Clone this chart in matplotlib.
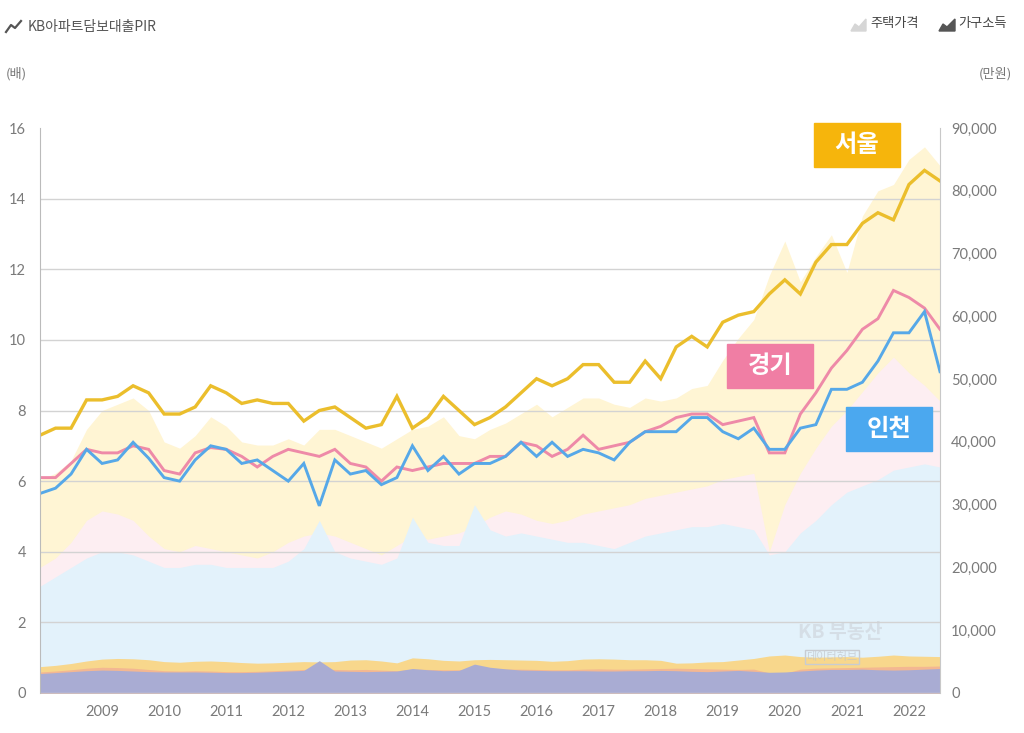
import matplotlib
matplotlib.use('Agg')
import matplotlib.pyplot as plt
from matplotlib.patches import Rectangle, Polygon
import numpy as np

plt.rcParams['font.family'] = ['Lato', 'Noto Sans CJK KR', 'DejaVu Sans']
KR = ['Noto Sans CJK KR', 'DejaVu Sans']

# quarterly, 2008 Q1 .. 2022 Q3
years = list(range(2009, 2023))

seoul_pir = [7.3, 7.5, 7.5, 8.3, 8.3, 8.4, 8.7, 8.5, 7.9, 7.9,
             8.1, 8.7, 8.5, 8.2, 8.3, 8.2, 8.2, 7.7, 8.0, 8.1,
             7.8, 7.5, 7.6, 8.4, 7.5, 7.8, 8.4, 8.0, 7.6, 7.8,
             8.1, 8.5, 8.9, 8.7, 8.9, 9.3, 9.3, 8.8, 8.8, 9.4,
             8.9, 9.8, 10.1, 9.8, 10.5, 10.7, 10.8, 11.3, 11.7, 11.3,
             12.2, 12.7, 12.7, 13.3, 13.6, 13.4, 14.4, 14.8, 14.5]
gyeonggi_pir = [6.1, 6.1, 6.5, 6.9, 6.8, 6.8, 7.0, 6.9, 6.3, 6.2,
                6.8, 6.95, 6.9, 6.7, 6.4, 6.7, 6.9, 6.8, 6.7, 6.9,
                6.5, 6.4, 6.0, 6.4, 6.3, 6.4, 6.5, 6.5, 6.5, 6.7,
                6.7, 7.1, 7.0, 6.7, 6.9, 7.3, 6.9, 7.0, 7.1, 7.4,
                7.55, 7.8, 7.9, 7.9, 7.6, 7.7, 7.8, 6.8, 6.8, 7.9,
                8.5, 9.2, 9.7, 10.3, 10.6, 11.4, 11.2, 10.9, 10.3]
incheon_pir = [5.65, 5.8, 6.2, 6.9, 6.5, 6.6, 7.1, 6.65, 6.1, 6.0,
               6.6, 7.0, 6.9, 6.5, 6.6, 6.3, 6.0, 6.5, 5.3, 6.6,
               6.2, 6.3, 5.9, 6.1, 7.0, 6.3, 6.7, 6.2, 6.5, 6.5,
               6.7, 7.1, 6.7, 7.1, 6.7, 6.9, 6.8, 6.6, 7.1, 7.4,
               7.4, 7.4, 7.8, 7.8, 7.4, 7.2, 7.5, 6.9, 6.9, 7.5,
               7.6, 8.6, 8.6, 8.8, 9.4, 10.2, 10.2, 10.8, 9.1]

# house price (만원)
seoul_price = [34000, 35000, 37000, 42000, 45000, 46000, 47000, 45000, 40000, 39000,
               41000, 44000, 42500, 40000, 39500, 39500, 40500, 39500, 42000, 42000,
               41000, 40000, 39000, 40500, 42000, 42500, 44000, 41000, 40500, 42000,
               43000, 44500, 46000, 44000, 45500, 47000, 47000, 46000, 45500, 47000,
               46500, 47000, 48500, 49000, 53000, 56500, 59500, 66500, 72000, 65500,
               69500, 73000, 67000, 76000, 80000, 81000, 85000, 87000, 84000]
gyeonggi_price = [20000, 21500, 24000, 27500, 29000, 28500, 27500, 25000, 23000, 22500,
                  23500, 23000, 22500, 22000, 21500, 22500, 24000, 25000, 25500, 25000,
                  24000, 23000, 22000, 23500, 25000, 24500, 25000, 25500, 26500, 28000,
                  29000, 28500, 27500, 27000, 27500, 28500, 29000, 29500, 30000, 31000,
                  31500, 32000, 32500, 33000, 34000, 34500, 35000, 22500, 30000, 35000,
                  39000, 42500, 45000, 48000, 51000, 53500, 51000, 49000, 46500]
incheon_price = [17000, 18500, 20000, 21500, 22500, 22500, 22000, 21000, 20000, 20000,
                 20500, 20500, 20000, 20000, 20000, 20000, 21000, 23000, 27500, 22500,
                 21500, 21000, 20500, 21500, 28000, 24000, 23500, 23500, 30000, 26000,
                 25000, 25500, 25000, 24500, 24000, 24000, 23500, 23000, 24000, 25000,
                 25500, 26000, 26500, 26500, 27000, 26500, 26000, 22000, 22500, 25500,
                 27500, 30000, 32000, 33000, 34000, 35500, 36000, 36500, 36000]

# household income (만원)
seoul_income = [4200, 4400, 4700, 5100, 5400, 5500, 5450, 5300, 5000, 4900,
                5050, 5100, 5000, 4850, 4750, 4800, 4900, 5000, 4950, 5000,
                5250, 5300, 5100, 4800, 5600, 5450, 5200, 5100, 5300, 5350,
                5300, 5250, 5200, 5050, 5150, 5400, 5450, 5400, 5300, 5300,
                5200, 4750, 4800, 4950, 5000, 5250, 5500, 5900, 6050, 5800,
                5700, 5750, 5800, 5700, 5850, 6050, 5900, 5850, 5800]
gyeonggi_income = [3350, 3500, 3700, 3950, 4100, 4050, 3950, 3750, 3550, 3500,
                   3550, 3500, 3400, 3400, 3450, 3550, 3650, 3750, 3800, 3750,
                   3700, 3750, 3650, 3550, 3800, 3750, 3700, 3700, 3900, 3850,
                   3800, 3800, 3750, 3700, 3700, 3800, 3850, 3800, 3800, 3850,
                   3900, 3950, 3900, 3850, 3800, 3750, 3800, 3200, 3150, 3800,
                   3950, 4000, 4050, 4100, 4150, 4200, 4250, 4250, 4300]
incheon_income = [3100, 3250, 3400, 3550, 3650, 3600, 3500, 3400, 3350, 3350,
                  3350, 3300, 3250, 3250, 3300, 3400, 3500, 3600, 5150, 3500,
                  3450, 3400, 3450, 3500, 3900, 3700, 3550, 3600, 4600, 4100,
                  3850, 3650, 3600, 3550, 3550, 3550, 3500, 3500, 3550, 3550,
                  3600, 3550, 3450, 3400, 3500, 3600, 3450, 3300, 3350, 3500,
                  3650, 3750, 3750, 3800, 3700, 3650, 3700, 3800, 3900]

left_ticks = [0, 2, 4, 6, 8, 10, 12, 14, 16]
right_ticks = [0, 10000, 20000, 30000, 40000, 50000, 60000, 70000, 80000, 90000]

x = np.arange(len(seoul_pir))

fig = plt.figure(figsize=(10.24, 7.33), dpi=100)
ax = fig.add_axes([40/1024, 40/733, 900/1024, 565/733])
ax2 = ax.twinx()
ax.set_zorder(ax2.get_zorder() + 1)
ax.patch.set_visible(False)

# areas (right axis)
ax2.fill_between(x, seoul_price, color='#FFF5D4', lw=0)
ax2.fill_between(x, gyeonggi_price, color='#FDEEF2', lw=0)
ax2.fill_between(x, incheon_price, color='#E3F2FB', lw=0)
ax2.fill_between(x, seoul_income, color='#F8D78C', lw=0)
ax2.fill_between(x, gyeonggi_income, color='#F3B792', lw=0)
ax2.fill_between(x, incheon_income, color='#A9ACD3', lw=0)
ax2.set_ylim(0, 90000)
ax2.set_yticks(right_ticks)
ax2.set_yticklabels([f'{v:,}' for v in right_ticks])

# PIR lines (left axis)
ax.plot(x, seoul_pir, color='#EBBE2C', lw=2.4, solid_joinstyle='miter')
ax.plot(x, gyeonggi_pir, color='#EE8AA8', lw=2.1, solid_joinstyle='miter')
ax.plot(x, incheon_pir, color='#56A8E8', lw=2.1, solid_joinstyle='miter')
ax.set_ylim(0, 16)
ax.set_xlim(0, len(x) - 1)
ax.set_yticks(left_ticks)
ax.set_xticks([4 * (y - 2008) for y in years])
ax.set_xticklabels([str(y) for y in years])
ax.grid(axis='y', color='#D3D3D3', lw=1)
ax.yaxis.get_gridlines()[-1].set_visible(False)

for a in (ax, ax2):
    for s in a.spines.values():
        s.set_visible(False)
    a.tick_params(length=0, labelsize=10.5, colors='#7A7A7A')
ax.spines['left'].set_visible(True)
ax.spines['left'].set_color('#BBBBBB')
ax2.spines['right'].set_visible(True)
ax2.spines['right'].set_color('#C8C8C8')
ax.tick_params(axis='y', pad=10)
ax.tick_params(axis='x', pad=9)
ax2.tick_params(axis='y', pad=8)

# overlay in pixel coords for header, legend and labels
ov = fig.add_axes([0, 0, 1, 1], zorder=10)
ov.set_xlim(0, 1024)
ov.set_ylim(733, 0)
ov.axis('off')

ov.plot([6, 11, 15, 21], [32, 25, 28, 21], color='#555555', lw=1.6)
ov.text(28, 27, 'KB아파트담보대출PIR', family=KR, fontsize=10, color='#555555', va='center')
ov.add_patch(Polygon([(851, 31), (855, 24), (859, 27), (866, 19), (866, 31)], color='#D6D6D6'))
ov.text(870, 23, '주택가격', family=KR, fontsize=9.5, color='#444444', va='center')
ov.add_patch(Polygon([(939, 31), (943, 24), (947, 27), (955, 19), (955, 31)], color='#555555'))
ov.text(958, 23, '가구소득', family=KR, fontsize=9.5, color='#444444', va='center')
ov.text(6, 74, '(배)', family=KR, fontsize=9.5, color='#777777', va='center')
ov.text(1012, 74, '(만원)', family=KR, fontsize=9.5, color='#777777', va='center', ha='right')

for label, (bx, by), col in [('서울', (814, 123), '#F6B50C'),
                             ('경기', (727, 344), '#F07EA4'),
                             ('인천', (846, 407), '#4BA8EF')]:
    ov.add_patch(Rectangle((bx, by), 86, 44, color=col))
    ov.text(bx + 43, by + 22, label, family=KR, fontsize=17.5, fontweight='heavy',
            color='white', ha='center', va='center')

ov.text(840, 632, 'KB 부동산', family=KR, fontsize=14, fontweight='bold',
        color='#CDD2D8', alpha=0.6, ha='center', va='center')
ov.text(832, 657, '데이터허브', family=KR, fontsize=8, color='#C0C4CA', alpha=0.7,
        ha='center', va='center',
        bbox=dict(boxstyle='square,pad=0.15', fc='none', ec='#C8CCD2', lw=1))

fig.savefig('out.png', dpi=100)
